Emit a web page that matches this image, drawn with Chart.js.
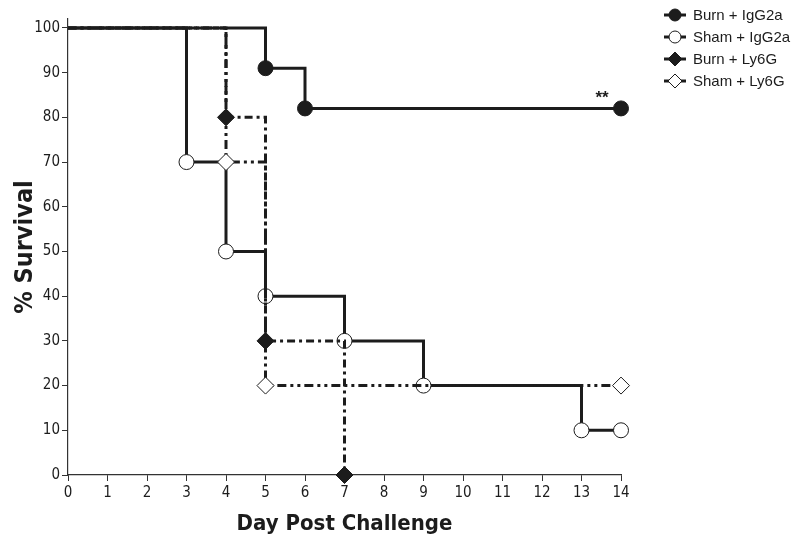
<!DOCTYPE html>
<html>
<head>
<meta charset="utf-8">
<script src="https://cdn.jsdelivr.net/npm/chart.js@4/dist/chart.umd.min.js"></script>
<style>
  html, body { margin: 0; padding: 0; background: #fff; }
  #wrap { width: 800px; height: 543px; position: relative; }
</style>
</head>
<body>
<div id="wrap"><canvas id="survivalChart"></canvas></div>
<script>
(function () {
    "use strict";

    // series labels (legend order)
    var seriesNames = ['Burn + IgG2a', 'Sham + IgG2a', 'Burn + Ly6G', 'Sham + Ly6G'];

    // day / % survival, step points (first point is the start, no marker)
    var burnIggDays = [0, 5, 6, 14];
    var burnIggSurv = [100, 91, 82, 82];

    var shamIggDays = [0, 3, 4, 5, 7, 9, 13, 14];
    var shamIggSurv = [100, 70, 50, 40, 30, 20, 10, 10];

    var burnLyDays = [0, 4, 5, 7];
    var burnLySurv = [100, 80, 30, 0];

    var shamLyDays = [0, 4, 5, 14];
    var shamLySurv = [100, 70, 20, 20];

    var xTicks = [0, 1, 2, 3, 4, 5, 6, 7, 8, 9, 10, 11, 12, 13, 14];
    var yTicks = [0, 10, 20, 30, 40, 50, 60, 70, 80, 90, 100];

    var ink = '#1c1c1c';
    var narrow = "'Liberation Sans Narrow', 'DejaVu Sans Condensed', 'Arial Narrow', sans-serif";

    function toPoints(days, surv) {
        var pts = [];
        for (var i = 0; i < days.length; i++) {
            pts.push({ x: days[i], y: surv[i] });
        }
        return pts;
    }
    function radii(n, r) {
        var arr = [0];
        for (var i = 1; i < n; i++) arr.push(r);
        return arr;
    }

    var styles = [
        { fill: ink, dash: [], point: 'circle', r: 7.5 },
        { fill: '#fff', dash: [], point: 'circle', r: 7.5 },
        { fill: ink, dash: [8, 4, 3, 4], point: 'rectRot', r: 8.5 },
        { fill: '#fff', dash: [9, 4, 3, 4, 3, 4], point: 'rectRot', r: 8.5 }
    ];

    var sets = [
        toPoints(burnIggDays, burnIggSurv),
        toPoints(shamIggDays, shamIggSurv),
        toPoints(burnLyDays, burnLySurv),
        toPoints(shamLyDays, shamLySurv)
    ];
    // draw order: lower order on top
    var orders = [0, 3, 1, 2];

    var datasets = [];
    for (var k = 0; k < sets.length; k++) {
        datasets.push({
            label: seriesNames[k],
            data: sets[k],
            order: orders[k],
            clip: false,
            stepped: 'before',
            borderColor: ink,
            borderWidth: 3,
            borderDash: styles[k].dash,
            borderCapStyle: 'butt',
            pointStyle: styles[k].point,
            pointRadius: radii(sets[k].length, styles[k].r),
            pointHoverRadius: radii(sets[k].length, styles[k].r),
            pointBackgroundColor: styles[k].fill,
            pointBorderColor: ink,
            pointBorderWidth: 1,
            fill: false
        });
    }

    // legend with line + marker, and the ** annotation
    var extrasPlugin = {
        id: 'extras',
        afterDraw: function (chart) {
            var ctx = chart.ctx;
            var xs = chart.scales.x, ys = chart.scales.y;
            ctx.save();
            ctx.fillStyle = ink;
            ctx.font = "bold 17px 'Liberation Sans', Arial, sans-serif";
            ctx.textAlign = 'center';
            ctx.textBaseline = 'alphabetic';
            ctx.fillText('**', xs.getPixelForValue(14) - 19, ys.getPixelForValue(82) - 5);

            for (var i = 0; i < seriesNames.length; i++) {
                var cy = 15 + i * 22;
                ctx.strokeStyle = ink;
                ctx.lineWidth = 3;
                ctx.setLineDash([]);
                ctx.beginPath();
                ctx.moveTo(664, cy);
                ctx.lineTo(686, cy);
                ctx.stroke();
                ctx.beginPath();
                var st = styles[i];
                ctx.lineWidth = 1;
                ctx.fillStyle = st.fill;
                if (st.point === 'circle') {
                    ctx.arc(675, cy, 6, 0, Math.PI * 2);
                } else {
                    ctx.moveTo(675, cy - 7);
                    ctx.lineTo(682, cy);
                    ctx.lineTo(675, cy + 7);
                    ctx.lineTo(668, cy);
                    ctx.closePath();
                }
                ctx.fill();
                ctx.stroke();
                ctx.fillStyle = ink;
                ctx.font = "15px 'Liberation Sans', Arial, sans-serif";
                ctx.textAlign = 'left';
                ctx.textBaseline = 'middle';
                ctx.fillText(seriesNames[i], 693, cy + 1);
            }
            ctx.restore();
        }
    };

    var chart = new Chart(document.getElementById('survivalChart'), {
        type: 'line',
        data: { datasets: datasets },
        plugins: [extrasPlugin],
        options: {
            responsive: true,
            maintainAspectRatio: false,
            animation: false,
            layout: { padding: { top: 19, right: 179, left: 0, bottom: 0 } },
            plugins: {
                legend: { display: false },
                tooltip: { enabled: false }
            },
            scales: {
                x: {
                    type: 'linear',
                    min: 0,
                    max: 14,
                    afterBuildTicks: function (scale) {
                        scale.ticks = xTicks.map(function (v) { return { value: v }; });
                    },
                    afterFit: function (scale) { scale.height = 68; },
                    grid: { drawOnChartArea: false, drawTicks: true, tickLength: 6, color: '#333', lineWidth: 1 },
                    border: { display: true, color: '#333', width: 1.2 },
                    ticks: { color: ink, padding: 3, maxRotation: 0, autoSkip: false, font: { family: narrow, size: 15 } },
                    title: {
                        display: true,
                        text: 'Day Post Challenge',
                        color: ink,
                        padding: { top: 0, bottom: 6 },
                        font: { family: narrow, size: 22, weight: 'bold' }
                    }
                },
                y: {
                    type: 'linear',
                    min: 0,
                    max: 102,
                    afterBuildTicks: function (scale) {
                        scale.ticks = yTicks.map(function (v) { return { value: v }; });
                    },
                    afterFit: function (scale) { scale.width = 68; },
                    grid: { drawOnChartArea: false, drawTicks: true, tickLength: 6, color: '#333', lineWidth: 1 },
                    border: { display: true, color: '#333', width: 1.2 },
                    ticks: { color: ink, padding: 2, autoSkip: false, font: { family: narrow, size: 15 } },
                    title: {
                        display: true,
                        text: '% Survival',
                        color: ink,
                        padding: { top: 10, bottom: 0 },
                        font: { family: narrow, size: 25, weight: 'bold' }
                    }
                }
            }
        }
    });
})();
</script>
</body>
</html>
